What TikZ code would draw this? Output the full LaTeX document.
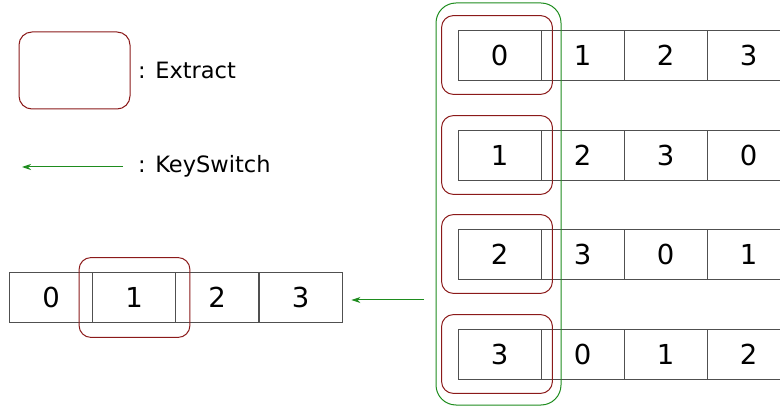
\documentclass[tikz,border=0pt]{standalone}
\usepackage{fontspec}
\setmainfont{DejaVu Sans}
\usetikzlibrary{arrows.meta}
\definecolor{exred}{HTML}{8B1A1A}
\definecolor{ksgreen}{HTML}{1E8C1E}
\definecolor{cellline}{HTML}{505050}
\tikzset{
  cell/.style={draw=cellline, line width=0.9pt, minimum width=83pt, minimum height=50pt,
    inner sep=0pt, font=\fontsize{27.5}{30}\selectfont},
  extract/.style={draw=exred, line width=1pt, rounded corners=12pt},
  keysw/.style={draw=ksgreen, line width=1pt, rounded corners=20pt},
  ksarrow/.style={draw=ksgreen, line width=1pt, -{Stealth[length=9pt,width=6pt]}},
  legend/.style={anchor=base west, inner sep=0pt, font=\fontsize{22.5}{26}\selectfont},
}
\begin{document}
\begin{tikzpicture}[x=1pt,y=-1pt]
\useasboundingbox (0,0) rectangle (780,406);

% legend
\draw[extract, rounded corners=13pt] (19,32) rectangle (130,109);
\node[legend] (lgex) at (138,79) {: Extract};
\coordinate (lgs) at (123,167);
\coordinate (lge) at (22,167);
\draw[ksarrow] (lgs) -- (lge);
\node[legend] (lgks) at (138,173) {: KeySwitch};

% four rotated rows
\foreach \r/\y/\a/\b/\c/\d in {1/55/0/1/2/3, 2/155/1/2/3/0, 3/254/2/3/0/1, 4/354/3/0/1/2}{
  \node[cell] (r\r c1) at (499.5,\y) {\a};
  \node[cell] (r\r c2) at (582.5,\y) {\b};
  \node[cell] (r\r c3) at (665.5,\y) {\c};
  \node[cell] (r\r c4) at (748.5,\y) {\d};
  \draw[extract] ([shift={(-16,-14)}]r\r c1.north west) rectangle ([shift={(11,14)}]r\r c1.south east);
}

% column gathered by the key switch
\draw[keysw] (436,3) rectangle (561,405);
\coordinate (ksbox) at (436,300);

% resulting row
\node[cell] (r5c1) at (51,297) {0};
\node[cell] (r5c2) at (134,297) {1};
\node[cell] (r5c3) at (217,297) {2};
\node[cell] (r5c4) at (300.5,297) {3};
\draw[extract] ([shift={(-13,-14)}]r5c2.north west) rectangle ([shift={(14,15)}]r5c2.south east);

\draw[ksarrow] ([xshift=-12pt]ksbox) -- ([xshift=9pt]r5c4.east |- ksbox);
\end{tikzpicture}
\end{document}
